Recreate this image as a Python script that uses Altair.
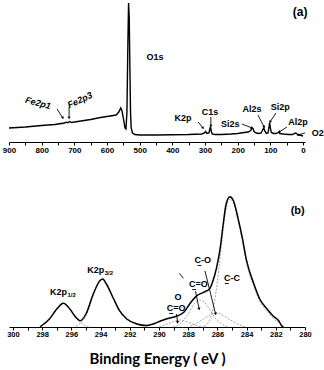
import altair as alt
import pandas as pd

LBL = "Liberation Sans"
TTL = "Lato"

# ---------------- panel (a): survey spectrum ----------------
a_energy = [900, 850, 800, 760, 730, 725, 720, 714, 709, 680, 650, 620, 590, 572,
            564, 558, 554, 549, 545, 542, 539, 536, 534, 532, 530, 528, 526, 522,
            515, 500, 450, 400, 350, 310, 302, 298, 294, 288, 285, 283, 281, 278,
            270, 250, 220, 200, 180, 168, 160, 156, 153, 150, 143, 135, 128, 123,
            120, 117, 112, 107, 104, 102, 100, 97, 90, 82, 78, 74, 71, 60, 45, 32,
            26, 22, 18, 12, 5, 0]
a_counts = [14, 15, 16.5, 17.5, 19, 19.8, 19.3, 20.5, 19.5, 21, 22.5, 24.5, 26, 27,
            30, 34, 31, 22, 14, 13, 30, 100, 139, 125, 75, 30, 14, 9,
            7.5, 7, 7, 7.3, 7.5, 8, 9, 10.5, 8.5, 9, 13, 15.5, 11, 8,
            7.5, 7.5, 8, 8.5, 9.5, 10, 11.5, 14, 13.5, 10.5, 9, 8.5, 9, 12.5,
            14, 11, 8.5, 9, 15, 19.5, 14, 9.5, 8.5, 8.5, 9, 10, 8.5, 8, 7.5, 7.5,
            8.5, 9, 8, 7, 6.5, 6]
a_ticks = [900, 850, 800, 750, 700, 650, 600, 550, 500, 450, 400, 350, 300, 250,
           200, 150, 100, 50, 0]

# peak labels (a)
a_lab_text = ["O1s", "K2p", "C1s", "Si2s", "Al2s", "Si2p", "Al2p"]
a_lab_e = [453, 367, 285, 223, 156, 70, 15]
a_lab_i = [85, 24, 30, 18, 33, 35, 20]
# Fe labels (italic, tilted)
fe_text = ["Fe2p1", "Fe2p3"]
fe_e = [811, 683]
fe_i = [39, 42]
fe_ang = [15, 335]
# arrows (a)
a_arr_e1 = [753, 716, 321, 282, 187, 138, 83, 49, -6]
a_arr_i1 = [33, 35, 20, 25, 18, 27, 29, 15, 9]
a_arr_e2 = [735, 716, 306, 282, 156, 119, 101, 73, 16]
a_arr_i2 = [24, 24, 14, 16, 14, 15, 20, 10, 7]
a_arr_ang = [146, 180, 140, 180, 112, 153, 214, 230, 254]

# ---------------- panel (b): C1s / K2p region ----------------
b_energy = [298.15, 297.5, 297.0, 296.55, 296.1, 295.75, 295.4, 295.0, 294.5, 294.05,
            293.85, 293.6, 293.1, 292.7, 292.2, 291.5, 290.85, 290.3, 289.9, 289.4,
            288.9, 288.3, 287.9, 287.4, 286.95, 286.55, 286.3, 286.05, 285.8, 285.6,
            285.4, 285.15, 284.9, 284.6, 284.3, 284.0, 283.5, 283.1, 282.6, 282.2,
            281.8, 281.6, 281.5]
b_counts = [0, 8, 18, 23.7, 18, 10.7, 6.3, 13, 33, 46.3,
            48, 43, 28, 16.3, 8, 3, 1.5, 3.5, 6, 8.5,
            10.3, 14.7, 23, 31.3, 34.7, 38, 46.3, 59.7, 79.7, 103,
            123, 130.3, 126.3, 109.7, 89.7, 66.3, 43, 28, 18, 11.3,
            6.3, 1.3, 0]
b_ticks = list(range(300, 279, -1))

k12_e = [298.2, 297.5, 297.0, 296.55, 296.1, 295.7, 295.3, 295.0, 294.8]
k12_i = [0, 8, 18, 23.5, 18, 10, 4, 1, 0]
k32_e = [295.8, 295.5, 295.2, 294.9, 294.5, 294.05, 293.85, 293.6, 293.1, 292.7, 292.2, 291.5, 290.8]
k32_i = [0, 2.5, 6.5, 14, 32, 46, 47.5, 42.5, 27.5, 16, 7.5, 2.5, 0.5]
occo_e = [290.0, 289.5, 289.0, 288.6, 288.2, 287.7, 287.2, 286.9]
occo_i = [0, 2.5, 5.5, 7, 6, 3, 0.5, 0]
co2_e = [289.0, 288.5, 288.0, 287.6, 287.25, 286.9, 286.5, 286.1, 285.7, 285.3]
co2_i = [0, 4, 13, 23, 27, 25, 17, 8, 3, 0]
co_e = [288.0, 287.5, 287.0, 286.5, 286.05, 285.6, 285.1, 284.6, 284.1]
co_i = [0, 3, 7.5, 12, 14, 11.5, 7, 3, 0]
cc_e = [287.0, 286.6, 286.3, 286.0, 285.7, 285.4, 285.15, 284.9, 284.6, 284.3, 284.0,
        283.5, 283.1, 282.6, 282.2, 281.8, 281.4]
cc_i = [0, 5, 18, 45, 85, 118, 128, 124, 107, 87, 64, 41, 26, 16, 9, 4, 0]

# labels (b)
b_lab_text = ["C-O", "C-C", "C=O", "O", "C=O"]
b_lab_e = [287.0, 285.0, 287.3, 288.7, 288.83]
b_lab_i = [67, 49, 43, 30, 19]
ul_e1 = [287.36, 285.49, 287.72, 289.3]
ul_e2 = [287.10, 285.22, 287.45, 289.03]
ul_i = [61.5, 43.5, 37.5, 13.5]
k_main_text = ["K2p", "K2p"]
k_main_e = [296.3, 293.75]
k_main_i = [35, 57]
k_sub_text = ["1/2", "3/2"]
k_sub_i = [32, 54]
b_arr_e1 = [286.85, 287.5, 288.8, 288.6]
b_arr_i1 = [56, 36, 13, 53.7]
b_arr_e2 = [286.12, 287.25, 288.72, 288.33]
b_arr_i2 = [13, 18, 4.7, 48.7]
b_head = [True, True, True, False]
b_arr_ang = [166, 169, 173, 0]

# ---------------- build tables ----------------
dfa = pd.DataFrame({"E": a_energy, "I": a_counts})
dfa_lab = pd.DataFrame({"E": a_lab_e, "I": a_lab_i, "t": a_lab_text})
dfa_fe = pd.DataFrame({"E": fe_e, "I": fe_i, "t": fe_text, "ang": fe_ang})
dfa_arr = pd.DataFrame({"E": a_arr_e1, "I": a_arr_i1, "E2": a_arr_e2, "I2": a_arr_i2, "ang": a_arr_ang})
dfa_tag = pd.DataFrame({"E": [9.0], "I": [130], "t": ["(a)"]})
dfa_o2 = pd.DataFrame({"E": [-27], "I": [9.5], "t": ["O2"]})

dfb = pd.DataFrame({"E": b_energy, "I": b_counts})
comps = []
for name, es, iv in [("K2p1/2", k12_e, k12_i), ("K2p3/2", k32_e, k32_i), ("O-C=O", occo_e, occo_i),
                     ("C=O", co2_e, co2_i), ("C-O", co_e, co_i), ("C-C", cc_e, cc_i)]:
    for e, i in zip(es, iv):
        comps.append({"E": e, "I": i, "c": name})
dfb_comp = pd.DataFrame(comps)
dfb_lab = pd.DataFrame({"E": b_lab_e, "I": b_lab_i, "t": b_lab_text})
dfb_ul = pd.DataFrame({"E": ul_e1, "E2": ul_e2, "I": ul_i})
dfb_k = pd.DataFrame({"E": k_main_e, "I": k_main_i, "t": k_main_text})
dfb_ks = pd.DataFrame({"E": k_main_e, "I": k_sub_i, "t": k_sub_text})
dfb_arr = pd.DataFrame({"E": b_arr_e1, "I": b_arr_i1, "E2": b_arr_e2, "I2": b_arr_i2,
                        "h": b_head, "ang": b_arr_ang})
dfb_tag = pd.DataFrame({"E": [280.5], "I": [116], "t": ["(b)"]})

# ---------------- scales / axes ----------------
axis_common = dict(domainColor="black", domainWidth=1, tickColor="black", tickWidth=1,
                   tickSize=3, labelFont=LBL, labelFontWeight="bold", labelColor="black",
                   grid=False, labelFlush=False, labelOverlap=False)
ax_a = alt.Axis(values=a_ticks, labelFontSize=8, labelPadding=1,
                labelExpr="datum.value % 100 === 0 ? format(datum.value, 'd') : ''",
                title=None, **axis_common)
ax_b = alt.Axis(values=b_ticks, labelFontSize=7.5, labelPadding=0,
                labelExpr="datum.value % 2 === 0 ? format(datum.value, 'd') : ''",
                title="Binding Energy ( eV )", titleFont=TTL, titleFontSize=15,
                titleFontWeight="bold", titleColor="black", titlePadding=14,
                **axis_common)
sx_a = alt.Scale(domain=[900, -6.1], nice=False, zero=False)
sy_a = alt.Scale(domain=[0, 142], nice=False, zero=False)
sx_b = alt.Scale(domain=[300.27, 280], nice=False, zero=False)
sy_b = alt.Scale(domain=[0, 138], nice=False, zero=False)


def X(field, sc, ax):
    return alt.X(f"{field}:Q", scale=sc, axis=ax, title=None if ax is ax_a else "Binding Energy ( eV )")


def Y(field, sc):
    return alt.Y(f"{field}:Q", scale=sc, axis=None)


# ---------------- panel (a) ----------------
a_line = alt.Chart(dfa).mark_line(color="black", strokeWidth=1.4, interpolate="linear").encode(
    x=X("E", sx_a, ax_a), y=Y("I", sy_a), order="E:O")
a_lab = alt.Chart(dfa_lab).mark_text(font=LBL, fontSize=9, fontWeight="bold", color="black").encode(
    x=X("E", sx_a, ax_a), y=Y("I", sy_a), text="t:N")
a_fe = alt.Chart(dfa_fe).mark_text(font=LBL, fontSize=9, fontWeight="bold", fontStyle="italic",
                                   color="black").encode(
    x=X("E", sx_a, ax_a), y=Y("I", sy_a), text="t:N", angle=alt.Angle("ang:Q", scale=None))
a_arr = alt.Chart(dfa_arr).mark_rule(color="black", strokeWidth=0.9).encode(
    x=X("E", sx_a, ax_a), y=Y("I", sy_a), x2="E2:Q", y2="I2:Q")
a_head = alt.Chart(dfa_arr).mark_point(shape="triangle-up", filled=True, color="black",
                                       size=9, opacity=1).encode(
    x=X("E2", sx_a, ax_a), y=Y("I2", sy_a), angle=alt.Angle("ang:Q", scale=None))
a_tag = alt.Chart(dfa_tag).mark_text(font=LBL, fontSize=12, fontWeight="bold", color="black").encode(
    x=X("E", sx_a, ax_a), y=Y("I", sy_a), text="t:N")
a_o2 = alt.Chart(dfa_o2).mark_text(font=LBL, fontSize=9, fontWeight="bold", color="black",
                                   align="left").encode(
    x=X("E", sx_a, ax_a), y=Y("I", sy_a), text="t:N")

panel_a = alt.layer(a_line, a_arr, a_head, a_lab, a_fe, a_tag, a_o2).properties(width=296, height=142)

# ---------------- panel (b) ----------------
b_comp = alt.Chart(dfb_comp).mark_line(color="#8a8a8a", strokeWidth=0.8, strokeDash=[2, 1.5],
                                        interpolate="monotone").encode(
    x=X("E", sx_b, ax_b), y=Y("I", sy_b), detail="c:N", order="E:Q")
b_line = alt.Chart(dfb).mark_line(color="black", strokeWidth=1.5, interpolate="monotone").encode(
    x=X("E", sx_b, ax_b), y=Y("I", sy_b), order="E:Q")
b_lab = alt.Chart(dfb_lab).mark_text(font=LBL, fontSize=9, fontWeight="bold", color="black").encode(
    x=X("E", sx_b, ax_b), y=Y("I", sy_b), text="t:N")
b_ul = alt.Chart(dfb_ul).mark_rule(color="black", strokeWidth=0.9).encode(
    x=X("E", sx_b, ax_b), x2="E2:Q", y=Y("I", sy_b))
b_k = alt.Chart(dfb_k).mark_text(font=LBL, fontSize=9, fontWeight="bold", color="black",
                                 align="right").encode(
    x=X("E", sx_b, ax_b), y=Y("I", sy_b), text="t:N")
b_ks = alt.Chart(dfb_ks).mark_text(font=LBL, fontSize=6, fontWeight="bold", color="black",
                                   align="left", dx=0.5).encode(
    x=X("E", sx_b, ax_b), y=Y("I", sy_b), text="t:N")
b_arr = alt.Chart(dfb_arr).mark_rule(color="black", strokeWidth=0.9).encode(
    x=X("E", sx_b, ax_b), y=Y("I", sy_b), x2="E2:Q", y2="I2:Q")
b_head = alt.Chart(dfb_arr).transform_filter("datum.h").mark_point(
    shape="triangle-up", filled=True, color="black", size=10, opacity=1).encode(
    x=X("E2", sx_b, ax_b), y=Y("I2", sy_b), angle=alt.Angle("ang:Q", scale=None))
b_tag = alt.Chart(dfb_tag).mark_text(font=LBL, fontSize=11, fontWeight="bold", color="black").encode(
    x=X("E", sx_b, ax_b), y=Y("I", sy_b), text="t:N")

panel_b = alt.layer(b_comp, b_line, b_arr, b_head, b_ul, b_lab, b_k, b_ks, b_tag).properties(
    width=296, height=138)

chart = alt.vconcat(panel_a, panel_b, spacing=35).properties(
    padding={"left": 2, "top": 0, "right": 0, "bottom": 2},
    background="white",
).configure_view(stroke=None)

chart.save("out.html", embed_options={"renderer": "svg", "actions": False})
